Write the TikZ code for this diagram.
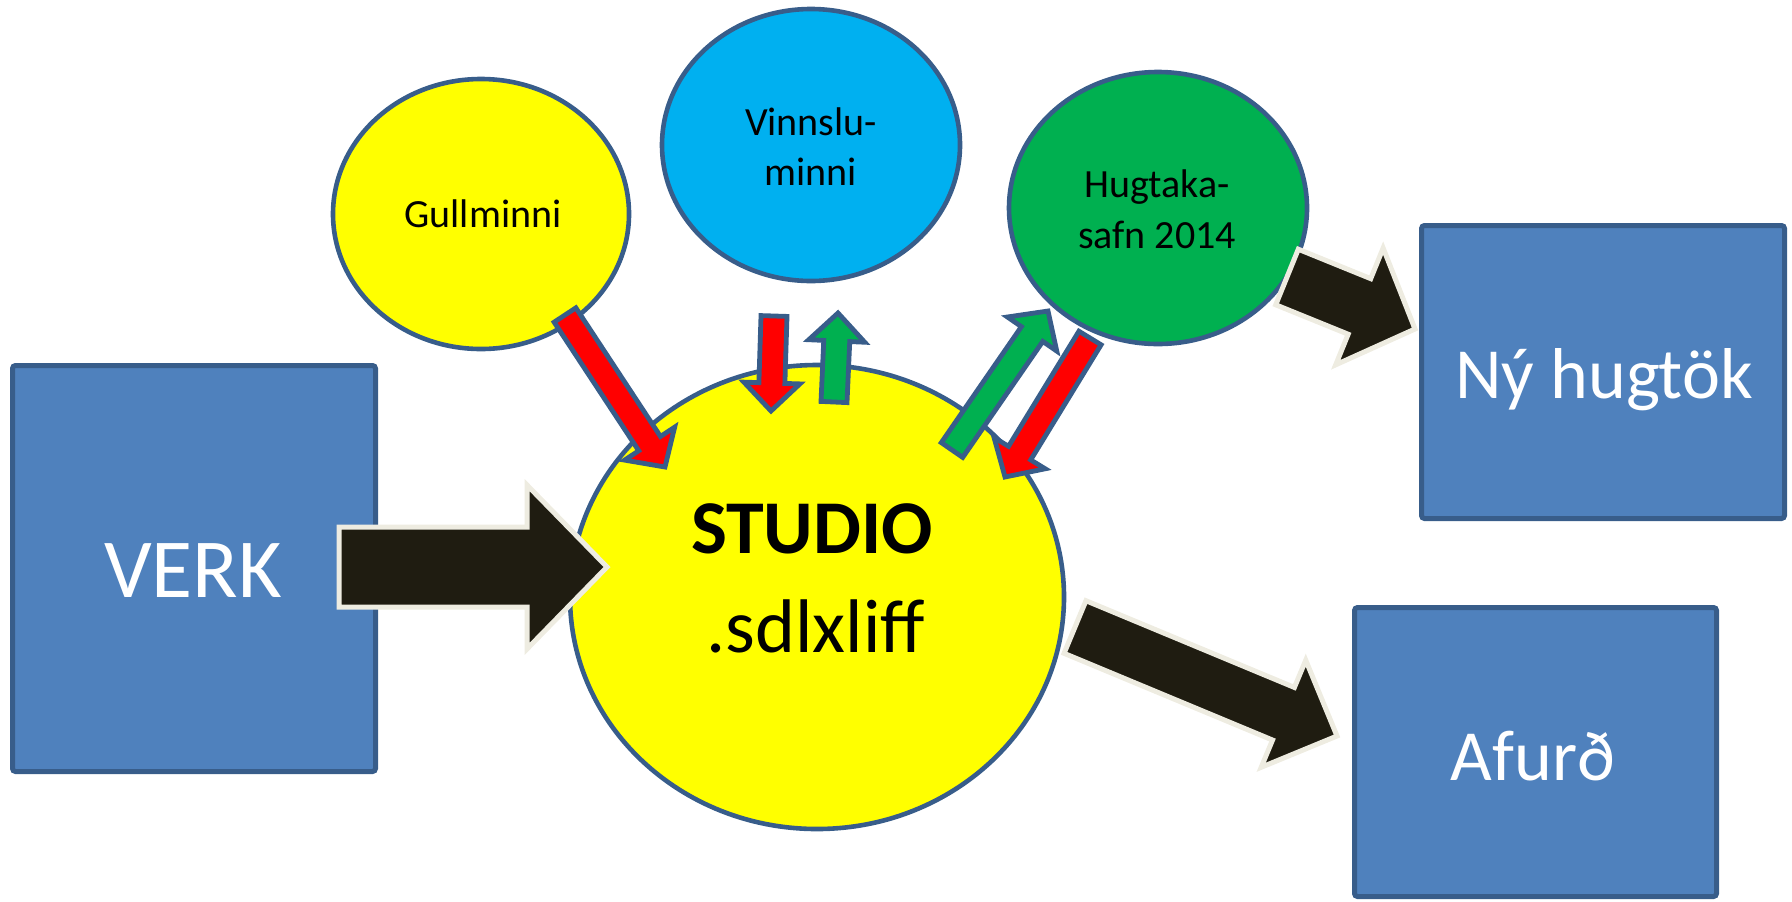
\documentclass[tikz,border=0pt]{standalone}
\usepackage{fontspec}
\setmainfont{Carlito}
\usetikzlibrary{calc,shapes.geometric}
\definecolor{boxfill}{HTML}{4F81BD}
\definecolor{boxline}{HTML}{385D8A}
\definecolor{ylw}{HTML}{FFFF00}
\definecolor{cyanb}{HTML}{00B0F0}
\definecolor{grn}{HTML}{00B050}
\definecolor{rd}{HTML}{FF0000}
\definecolor{blk}{HTML}{1F1C11}
\definecolor{beige}{HTML}{EEECE1}
% #1 style, #2 start, #3 tip, #4 body half width, #5 head half width, #6 head length
\newcommand\blockarrow[6]{%
  \coordinate (ba-n) at ($(#3)!#6!(#2)$);
  \draw[#1] ($(#2)!#4!90:(#3)$) -- ($(ba-n)!#4!-90:(#2)$) -- ($(ba-n)!#5!-90:(#2)$)
    -- (#3) -- ($(ba-n)!#5!90:(#2)$) -- ($(ba-n)!#4!90:(#2)$) -- ($(#2)!#4!-90:(#3)$) -- cycle;
}
\begin{document}
\begin{tikzpicture}[x=0.5pt,y=-0.5pt,
  box/.style={draw=boxline, line width=2.5pt, fill=boxfill, rounded corners=1.5pt, inner sep=0pt},
  bubble/.style={ellipse, draw=boxline, line width=2.3pt, inner sep=0pt},
  bigarrow/.style={fill=blk, draw=beige, line width=2.5pt, line join=miter},
  redarrow/.style={fill=rd, draw=boxline, line width=2.4pt, line join=miter},
  grnarrow/.style={fill=grn, draw=boxline, line width=2.4pt, line join=miter},
  bigwhite/.style={text=white, anchor=base, inner sep=0pt},
  smalltxt/.style={anchor=base, inner sep=0pt, font=\fontsize{20}{24}\selectfont}]
\useasboundingbox (0,0) rectangle (1792,901);

% boxes
\node[box, minimum width=181.5pt, minimum height=203pt] (verk) at (194,568.5) {};
\node[box, minimum width=181.5pt, minimum height=146.5pt] (ny) at (1603,372) {};
\node[box, minimum width=181pt, minimum height=144.5pt] (afurd) at (1535.5,752) {};
\node[bigwhite, font=\fontsize{42}{50}\selectfont] at (193,597) {VERK};
\node[bigwhite, font=\fontsize{36}{43}\selectfont] at (1604,398) {Ný hugtök};
\node[bigwhite, font=\fontsize{36}{43}\selectfont] at (1533,780) {Afurð};

% bubbles
\node[bubble, fill=ylw, minimum width=148pt, minimum height=135pt] (gull) at (481,214) {};
\node[bubble, fill=cyanb, minimum width=149pt, minimum height=136pt] (vinn) at (811,145) {};
\node[bubble, fill=grn, minimum width=149pt, minimum height=136pt] (hugt) at (1158,208) {};
\node[bubble, fill=ylw, minimum width=247pt, minimum height=232pt] (studio) at (817,597) {};

\node[smalltxt] at (483,227) {Gullminni};
\node[smalltxt] at (811,135) {Vinnslu-};
\node[smalltxt] at (811,185) {minni};
\node[smalltxt] at (1157,197) {Hugtaka-};
\node[smalltxt] at (1157,248) {safn 2014};
\node[anchor=base, inner sep=0pt, font=\fontsize{38}{46}\bfseries\selectfont] at (812,553) {STUDIO};
\node[anchor=base, inner sep=0pt, font=\fontsize{38}{46}\selectfont] at (816,652) {.sdlxliff};

% connector end points
\coordinate (a1s) at (339,567);  \coordinate (a1t) at (607,567);
\coordinate (a2s) at (1287,277); \coordinate (a2t) at (1415,329);
\coordinate (a3s) at (1075,627); \coordinate (a3t) at (1337,736);
\coordinate (r1s) at (565,315);  \coordinate (r1t) at (665,467);
\coordinate (r2s) at (774,316);  \coordinate (r2t) at (771,411);
\coordinate (g1s) at (834,402);  \coordinate (g1t) at (838,313);
\coordinate (g2s) at (952,450);  \coordinate (g2t) at (1048,311);
\coordinate (r3s) at (1090,338); \coordinate (r3t) at (1005,477);

% small arrows
\blockarrow{redarrow}{r1s}{r1t}{6.5pt}{15pt}{14pt}
\blockarrow{redarrow}{r2s}{r2t}{6.5pt}{14pt}{14pt}
\blockarrow{grnarrow}{g1s}{g1t}{6.5pt}{14pt}{14pt}
\blockarrow{grnarrow}{g2s}{g2t}{6.5pt}{15pt}{14pt}
\blockarrow{redarrow}{r3s}{r3t}{6.5pt}{15pt}{14pt}

% big arrows
\blockarrow{bigarrow}{a1s}{a1t}{20pt}{41pt}{40pt}
\blockarrow{bigarrow}{a2s}{a2t}{15pt}{31.5pt}{30pt}
\blockarrow{bigarrow}{a3s}{a3t}{14.25pt}{29pt}{29pt}
\end{tikzpicture}
\end{document}
